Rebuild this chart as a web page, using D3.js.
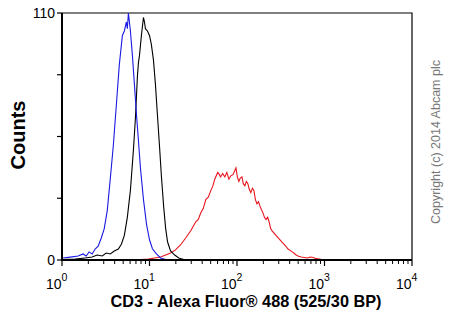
<!DOCTYPE html>
<html>
<head>
<meta charset="utf-8">
<script src="https://cdn.jsdelivr.net/npm/d3@7"></script>
<style>
  body { margin: 0; background: #fff; }
  text { font-family: "Liberation Sans", Arial, sans-serif; }
</style>
</head>
<body>
<svg width="450" height="322"></svg>
<script>
// fluorescence intensity (linear) and counts
var blueX = [1.03,1.24,1.53,1.74,1.89,2.04,2.21,2.39,2.59,2.81,3.04,3.29,3.56,3.86,4.18,4.52,4.9,5.16,5.44,5.58,5.74,6.05,6.38,6.73,7.09,7.48,7.88,8.53,9.24,10,10.8,12.0,13.4,15.3];
var blueY = [0.9,1.3,1.8,2.7,1.8,3.6,2.7,4.9,6.2,9.8,14,22,36,51,69,87,100,102,106,103,110,102,91,78,65,53,41,27,16,9,5,2.7,0.9,0.2];

var blackX = [1.03,1.41,1.84,2.21,2.52,2.88,3.2,3.56,3.96,4.4,4.77,5.16,5.58,6.05,6.55,6.9,7.28,7.48,7.68,8.08,8.53,8.76,8.98,9.47,10.0,10.5,11.1,11.7,12.3,13.0,13.7,14.5,15.3,16.1,17.4,19.4,21.6,24.6];
var blackY = [0.2,0.4,0.9,1.3,2.2,1.8,3.1,2.7,4,4.9,7,11,19,31,49,63,82,88,91,100,108,106,103,102,100,96,89,78,65,51,37,24,14,8,4,2.2,0.9,0.2];

var redX = [7.88,9.7,11.4,13.4,15.3,17.4,19.8,22.6,25.9,29.6,33.8,36.0,38.6,41.2,44.1,47.0,50.3,53.0,55.7,60.2,63.0,65.1,68.5,72.5,76.5,80.8,85.0,89.9,97.3,101,105,109,114,118,123,128,133,138,144,150,156,162,169,176,183,190,198,206,215,224,233,242,252,265,279,294,310,327,346,364,383,405,427,450,474,505,542,590,635,690,743,800,870,970];
var redY = [0.2,0.4,0.9,1.3,2.2,3.1,4.5,6.7,9.8,13,17,18,21,23,27,28,31,33,36,39,38,37,38.5,37,39,36,37.5,38,41,37,35,36.5,37,34,33,35,34,31.5,30,32,31,27,25,26,24,22.5,21,19,18,19,17,14,13,12,11,10,9,8,7,6,4.9,4.3,3.6,3,2.2,1.7,1.3,1.1,0.9,1.3,1.1,0.6,0.4,0.1];

var xDecades = [1, 10, 100, 1000, 10000];
var xExponents = ["0", "1", "2", "3", "4"];
var yTicks = [0, 27.5, 55, 82.5, 110];
var yLabels = {0: "0", 110: "110"};

var svg = d3.select("svg");
var margin = {top: 13, right: 38, bottom: 62, left: 62},
    width = 450 - margin.left - margin.right,
    height = 322 - margin.top - margin.bottom;

var g = svg.append("g").attr("transform", "translate(" + margin.left + "," + margin.top + ")");

var x = d3.scaleLog().domain([1, 10000]).range([0, width]);
var y = d3.scaleLinear().domain([0, 110]).range([height, 0]);

// frame top/right
g.append("path")
  .attr("d", "M0,0H" + width + "V" + height)
  .attr("fill", "none").attr("stroke", "#000").attr("stroke-width", 1.2);

// minor ticks on x
var minor = [];
for (var d = 1; d < 10000; d *= 10) {
  for (var k = 2; k < 10; k++) minor.push(d * k);
}
g.selectAll(".minor").data(minor).enter().append("line")
  .attr("x1", function (v) { return x(v); }).attr("x2", function (v) { return x(v); })
  .attr("y1", height).attr("y2", height + 4)
  .attr("stroke", "#000").attr("stroke-width", 1);

g.selectAll(".major").data(xDecades).enter().append("line")
  .attr("x1", function (v) { return x(v); }).attr("x2", function (v) { return x(v); })
  .attr("y1", height).attr("y2", height + 6)
  .attr("stroke", "#000").attr("stroke-width", 1.2);

var xl = g.selectAll(".xl").data(xDecades).enter().append("text")
  .attr("x", function (v) { return x(v) - 16; })
  .attr("y", height + 29)
  .style("font-size", "14px");
xl.append("tspan").text("10");
xl.append("tspan").attr("dy", -8).style("font-size", "10.5px").text(function (v, i) { return xExponents[i]; });

// y ticks
g.selectAll(".yt").data(yTicks).enter().append("line")
  .attr("x1", -5).attr("x2", 0)
  .attr("y1", function (v) { return y(v); }).attr("y2", function (v) { return y(v); })
  .attr("stroke", "#000").attr("stroke-width", 1.2);

g.selectAll(".yl").data(yTicks.filter(function (v) { return yLabels[v] !== undefined; })).enter().append("text")
  .attr("x", -7).attr("y", function (v) { return y(v) + 5; })
  .attr("text-anchor", "end")
  .style("font-size", "14px")
  .text(function (v) { return yLabels[v]; });

// histograms
var line = d3.line()
  .x(function (p) { return x(p[0]); })
  .y(function (p) { return y(p[1]); });

function curve(xs, ys, color) {
  var pts = xs.map(function (v, i) { return [v, ys[i]]; });
  g.append("path").datum(pts)
    .attr("d", line)
    .attr("fill", "none").attr("stroke", color).attr("stroke-width", 1.1);
}
curve(redX, redY, "#e8141c");
curve(blackX, blackY, "#000");
curve(blueX, blueY, "#1a1ae0");

// main axes
g.append("path")
  .attr("d", "M0,0V" + height + "H" + width)
  .attr("fill", "none").attr("stroke", "#000").attr("stroke-width", 2);

// titles
svg.append("text")
  .attr("x", 246).attr("y", 307)
  .attr("text-anchor", "middle")
  .style("font-size", "16.3px").style("font-weight", "bold")
  .text("CD3 - Alexa Fluor\u00ae 488 (525/30 BP)");

svg.append("text")
  .attr("transform", "translate(25,135) rotate(-90)")
  .attr("text-anchor", "middle")
  .style("font-size", "20px").style("font-weight", "bold")
  .text("Counts");

svg.append("text")
  .attr("transform", "translate(440,142) rotate(-90)")
  .attr("text-anchor", "middle")
  .style("font-size", "12.5px").style("fill", "#777")
  .text("Copyright (c) 2014 Abcam plc");
</script>
</body>
</html>
